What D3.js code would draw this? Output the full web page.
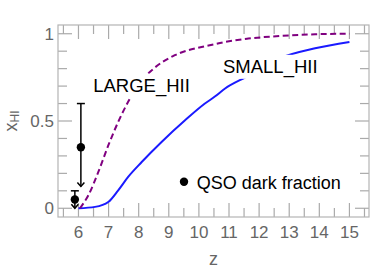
<!DOCTYPE html>
<html>
<head>
<meta charset="utf-8">
<script src="https://cdn.jsdelivr.net/npm/d3@7"></script>
<style>
  body { margin: 0; background: #fff; }
  text { font-family: "Liberation Sans", Arial, sans-serif; }
</style>
</head>
<body>
<div id="chart-area"></div>
<script>
// SMALL_HII model (solid blue)
var smallZ = [6.0, 6.55, 6.99, 7.32, 7.65, 8.1, 8.76, 9.54, 10.2, 10.53, 10.87, 11.59, 12.69, 13.86, 15.0];
var smallX = [0.0, 0.008, 0.036, 0.103, 0.18, 0.265, 0.38, 0.504, 0.60, 0.64, 0.686, 0.754, 0.86, 0.917, 0.953];

// LARGE_HII model (dashed purple)
var largeZ = [6.05, 6.33, 6.66, 6.99, 7.32, 7.65, 8.0, 8.43, 9.2, 10.09, 10.53, 10.87, 11.64, 12.75, 13.86, 15.0];
var largeX = [0.0, 0.075, 0.208, 0.36, 0.495, 0.61, 0.71, 0.79, 0.877, 0.924, 0.94, 0.953, 0.972, 0.988, 0.997, 1.0];

// QSO dark fraction points
var qsoZ = [5.88, 6.08];
var qsoX = [0.05, 0.35];
var qsoHi = [0.1, 0.6];
var qsoLo = [0.0, 0.125];

var xTicks = [6, 7, 8, 9, 10, 11, 12, 13, 14, 15];
var yTicks = [0, 0.5, 1];
var yTickLabels = ["0", "0.5", "1"];

var margin = { left: 58, right: 5, top: 25, bottom: 54 };
var width = 374 - margin.left - margin.right;
var height = 271 - margin.top - margin.bottom;

var svg = d3.select("#chart-area").append("svg")
  .attr("width", 374)
  .attr("height", 271);

var g = svg.append("g")
  .attr("transform", "translate(" + margin.left + "," + margin.top + ")");

var x = d3.scaleLinear().domain([5.32, 15.65]).range([0, width]);
var y = d3.scaleLinear().domain([-0.05, 1.05]).range([height, 0]);

var tickColor = "#aaa";
var majorLen = 14, minorLen = 9;

// ticks, mirrored on all sides, pointing inward
var xMinor = d3.range(5.5, 15.6, 0.5).filter(function(d) { return d % 1 !== 0; });
var yMinor = d3.range(0, 1.01, 0.1).map(function(d) { return +d.toFixed(1); })
  .filter(function(d) { return yTicks.indexOf(d) < 0; });

function xTickLines(vals, len) {
  vals.forEach(function(d) {
    g.append("line").attr("x1", x(d)).attr("x2", x(d))
      .attr("y1", height).attr("y2", height - len)
      .attr("stroke", tickColor).attr("stroke-width", 1.2);
    g.append("line").attr("x1", x(d)).attr("x2", x(d))
      .attr("y1", 0).attr("y2", len)
      .attr("stroke", tickColor).attr("stroke-width", 1.2);
  });
}
function yTickLines(vals, len) {
  vals.forEach(function(d) {
    g.append("line").attr("x1", 0).attr("x2", len)
      .attr("y1", y(d)).attr("y2", y(d))
      .attr("stroke", tickColor).attr("stroke-width", 1.2);
    g.append("line").attr("x1", width).attr("x2", width - len)
      .attr("y1", y(d)).attr("y2", y(d))
      .attr("stroke", tickColor).attr("stroke-width", 1.2);
  });
}
xTickLines(xTicks, majorLen);
xTickLines(xMinor, minorLen);
yTickLines(yTicks, majorLen);
yTickLines(yMinor, minorLen);

// frame
g.append("rect")
  .attr("width", width).attr("height", height)
  .attr("fill", "none").attr("stroke", "#b4b4b4").attr("stroke-width", 1.2);

// tick labels
g.selectAll(".xlab").data(xTicks).enter().append("text")
  .attr("x", function(d) { return x(d); })
  .attr("y", height + 20.5)
  .attr("text-anchor", "middle")
  .attr("font-size", "17px")
  .attr("fill", "#666")
  .text(function(d) { return d; });

g.selectAll(".ylab").data(yTicks).enter().append("text")
  .attr("x", -4)
  .attr("y", function(d) { return y(d) + 6; })
  .attr("text-anchor", "end")
  .attr("font-size", "17px")
  .attr("fill", "#666")
  .text(function(d, i) { return yTickLabels[i]; });

// axis labels
g.append("text")
  .attr("x", width / 2)
  .attr("y", height + 48)
  .attr("text-anchor", "middle")
  .attr("font-size", "18px")
  .attr("fill", "#666")
  .text("z");

var yl = svg.append("text")
  .attr("transform", "translate(16.5," + (margin.top + y(0.5)) + ") rotate(-90)")
  .attr("text-anchor", "middle")
  .attr("font-size", "18px")
  .attr("fill", "#666");
yl.append("tspan").text("x");
yl.append("tspan").attr("font-size", "12px").attr("dy", 2).text("HI");

// model curves
var line = d3.line()
  .x(function(d) { return x(d[0]); })
  .y(function(d) { return y(d[1]); })
  .curve(d3.curveMonotoneX);

g.append("path")
  .datum(d3.zip(smallZ, smallX))
  .attr("d", line)
  .attr("fill", "none")
  .attr("stroke", "#1a1aff")
  .attr("stroke-width", 2);

g.append("path")
  .datum(d3.zip(largeZ, largeX))
  .attr("d", line)
  .attr("fill", "none")
  .attr("stroke", "#800080")
  .attr("stroke-width", 2)
  .attr("stroke-dasharray", "6,3.5");

// curve labels with white background
function label(txt, zx, vy) {
  var t = g.append("text")
    .attr("x", x(zx)).attr("y", y(vy))
    .attr("font-size", "18.5px")
    .attr("fill", "#000")
    .text(txt);
  var b = t.node().getBBox();
  g.insert("rect", function() { return t.node(); })
    .attr("x", b.x - 2).attr("y", b.y - 1)
    .attr("width", b.width + 4).attr("height", b.height + 2)
    .attr("fill", "#fff");
}
label("LARGE_HII", 6.49, 0.668);
label("SMALL_HII", 10.8, 0.776);

// QSO dark fraction points with error bars
qsoZ.forEach(function(z, i) {
  var cx = x(z);
  g.append("line")
    .attr("x1", cx).attr("x2", cx)
    .attr("y1", y(qsoHi[i])).attr("y2", y(qsoLo[i]))
    .attr("stroke", "#000").attr("stroke-width", 1.5);
  g.append("line")
    .attr("x1", cx - 4).attr("x2", cx + 4)
    .attr("y1", y(qsoHi[i])).attr("y2", y(qsoHi[i]))
    .attr("stroke", "#000").attr("stroke-width", 1.5);
  g.append("path")
    .attr("d", "M" + (cx - 3.5) + "," + (y(qsoLo[i]) - 4) + "L" + cx + "," + y(qsoLo[i]) +
      "L" + (cx + 3.5) + "," + (y(qsoLo[i]) - 4))
    .attr("fill", "none").attr("stroke", "#000").attr("stroke-width", 1.5);
  g.append("circle")
    .attr("cx", cx).attr("cy", y(qsoX[i]))
    .attr("r", 4.2).attr("fill", "#000");
});

// legend
g.append("circle")
  .attr("cx", 126).attr("cy", 156.7)
  .attr("r", 4.2).attr("fill", "#000");
g.append("text")
  .attr("x", 138.7).attr("y", 164.3)
  .attr("font-size", "18px")
  .attr("fill", "#000")
  .text("QSO dark fraction");
</script>
</body>
</html>
